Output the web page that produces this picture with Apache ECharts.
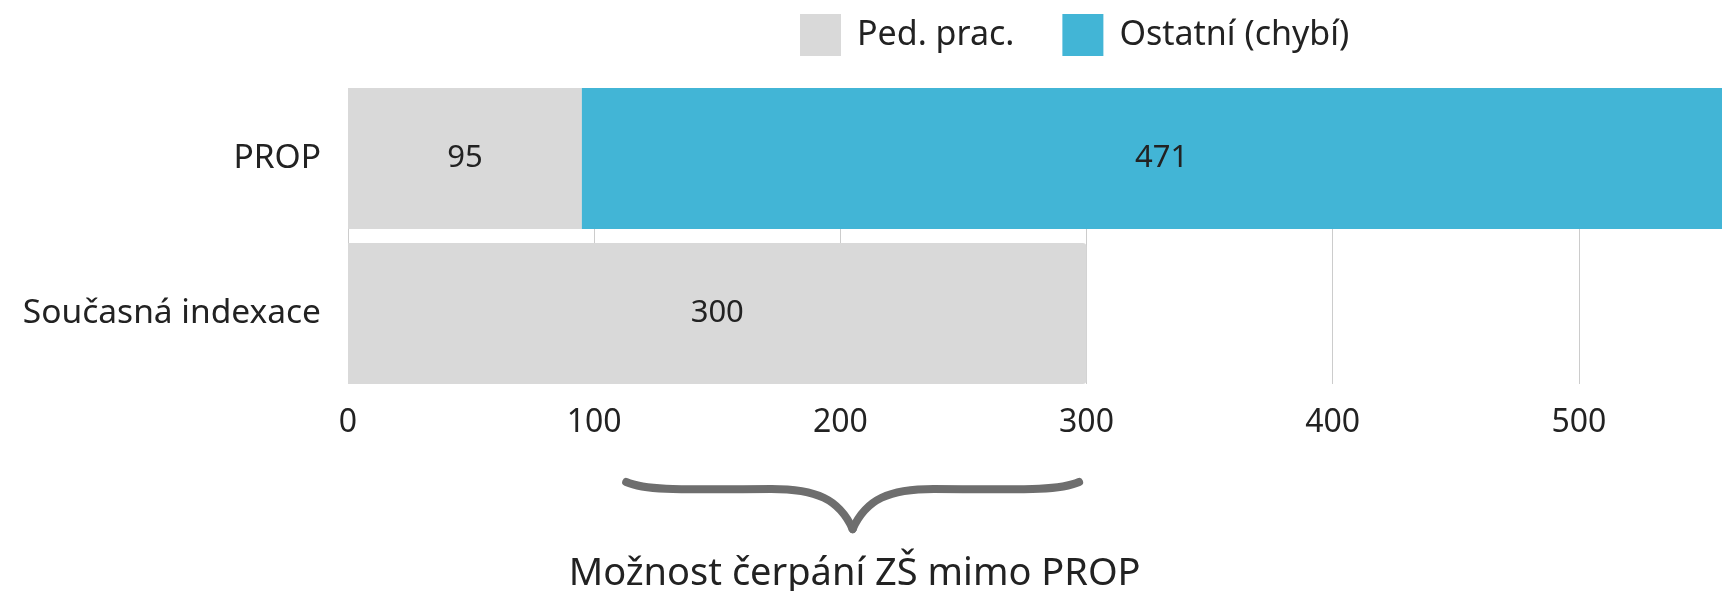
<!DOCTYPE html>
<html>
<head>
<meta charset="utf-8">
<script src="https://cdn.jsdelivr.net/npm/echarts@6/dist/echarts.min.js"></script>
<style>
html,body{margin:0;padding:0;background:#fff;}
#chart{width:1722px;height:591px;}
</style>
</head>
<body>
<div id="chart"></div>
<script>
var categories = ['PROP', 'Současná indexace'];
var seriesNames = ['Ped. prac.', 'Ostatní (chybí)'];
var pedPrac = [95, 300];
var ostatni = [471, null];
var xTicks = [0, 100, 200, 300, 400, 500, 600];
var braceRange = [113, 297];
var braceText = 'Možnost čerpání ZŠ mimo PROP';

var FONT = '"Noto Sans", "Open Sans", sans-serif';
var GRAY = '#d9d9d9';
var BLUE = '#42b5d6';
var TXT = '#222222';

var chart = echarts.init(document.getElementById('chart'));

var pedData = pedPrac.map(function (v, i) {
  var isLast = (ostatni[i] === null || ostatni[i] === undefined);
  return { value: v, itemStyle: { borderRadius: isLast ? [0, 4, 4, 0] : 0 } };
});

var xMin = xTicks[0], xMax = xTicks[xTicks.length - 1], xStep = xTicks[1] - xTicks[0];

var option = {
  animation: false,
  backgroundColor: '#ffffff',
  textStyle: { fontFamily: FONT },
  legend: {
    left: 800,
    top: 14,
    padding: 0,
    itemWidth: 41,
    itemHeight: 42,
    itemGap: 48,
    icon: 'rect',
    data: seriesNames,
    textStyle: { fontSize: 34, color: TXT, fontFamily: FONT, padding: [0, 0, 0, 11] }
  },
  grid: [
    { left: 348, top: 81, width: 1477, height: 310, outerBoundsMode: 'none', containLabel: false },
    { left: 348, top: 88, width: 1477, height: 296, outerBoundsMode: 'none', containLabel: false }
  ],
  xAxis: [
    {
      gridIndex: 0,
      type: 'value',
      min: xMin, max: xMax, interval: xStep,
      axisLine: { show: false },
      axisTick: { show: false },
      splitLine: { show: false },
      axisLabel: { show: false }
    },
    {
      gridIndex: 1,
      type: 'value',
      min: xMin, max: xMax, interval: xStep,
      axisLine: { show: false },
      axisTick: { show: false },
      splitLine: { show: true, lineStyle: { color: '#cccccc', width: 1 } },
      axisLabel: { fontSize: 32, color: TXT, fontFamily: FONT, margin: 23 }
    }
  ],
  yAxis: [
    {
      gridIndex: 0,
      type: 'category',
      data: categories,
      inverse: true,
      axisLine: { show: false },
      axisTick: { show: false },
      axisLabel: { fontSize: 33.5, color: TXT, fontFamily: FONT, margin: 27 }
    },
    {
      gridIndex: 1,
      type: 'value',
      min: 0, max: 1,
      show: false,
      splitLine: { show: false }
    }
  ],
  series: [
    {
      name: seriesNames[0],
      type: 'bar',
      stack: 'total',
      xAxisIndex: 0, yAxisIndex: 0,
      barWidth: 141,
      data: pedData,
      itemStyle: { color: GRAY },
      label: { show: true, position: 'inside', fontSize: 31, color: TXT, fontFamily: FONT }
    },
    {
      name: seriesNames[1],
      type: 'bar',
      stack: 'total',
      xAxisIndex: 0, yAxisIndex: 0,
      barWidth: 141,
      data: ostatni,
      itemStyle: { color: BLUE },
      label: { show: true, position: 'inside', fontSize: 31, color: TXT, fontFamily: FONT }
    }
  ]
};

chart.setOption(option);

var x0 = chart.convertToPixel({ xAxisIndex: 0 }, braceRange[0]);
var x1 = chart.convertToPixel({ xAxisIndex: 0 }, braceRange[1]);
var xm = (x0 + x1) / 2;
var w = x1 - x0;
var yEnd = 482, yArm = 489, yTip = 529;
var braceStyle = { stroke: '#6e6e6e', lineWidth: 8, lineCap: 'round', fill: null };

function curve(ax, ay, c1x, c1y, c2x, c2y, bx, by) {
  return {
    type: 'bezierCurve',
    shape: { x1: ax, y1: ay, cpx1: c1x, cpy1: c1y, cpx2: c2x, cpy2: c2y, x2: bx, y2: by },
    style: braceStyle
  };
}

chart.setOption({
  graphic: [
    curve(x0, yEnd, x0 + w * 0.05, yArm + 3, x0 + w * 0.16, yArm, x0 + w * 0.32, yArm),
    curve(x0 + w * 0.32, yArm, x0 + w * 0.42, yArm, xm - w * 0.03, yArm + 10, xm, yTip),
    curve(xm, yTip, xm + w * 0.03, yArm + 10, x1 - w * 0.42, yArm, x1 - w * 0.32, yArm),
    curve(x1 - w * 0.32, yArm, x1 - w * 0.16, yArm, x1 - w * 0.05, yArm + 3, x1, yEnd),
    {
      type: 'text',
      x: xm + 2,
      y: 574,
      style: { text: braceText, fontSize: 38, fontFamily: FONT, fill: TXT, align: 'center', verticalAlign: 'middle' }
    }
  ]
});
</script>
</body>
</html>
